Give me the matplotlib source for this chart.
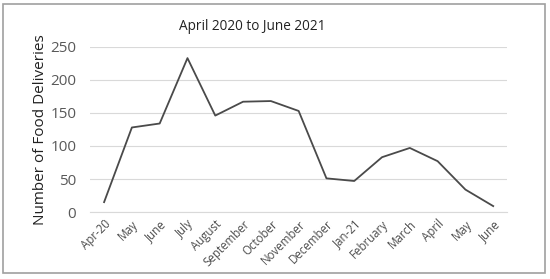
import matplotlib
matplotlib.use('Agg')
import matplotlib.pyplot as plt
from matplotlib.patches import Rectangle

months = ['Apr-20', 'May', 'June', 'July', 'August', 'September', 'October',
          'November', 'December', 'Jan-21', 'February', 'March', 'April',
          'May', 'June']
deliveries = [15, 128, 134, 233, 146, 167, 168, 153, 51, 47, 83, 97, 77, 34, 9]
y_ticks = [0, 50, 100, 150, 200, 250]

plt.rcParams['font.family'] = ['Open Sans', 'DejaVu Sans']

fig = plt.figure(figsize=(5.5, 2.79), dpi=100)
ax = fig.add_axes([0.164, 0.240, 0.758, 0.592])

x = list(range(len(months)))
ax.plot(x, deliveries, color='#4a4a4a', lw=1.3)

ax.set_ylim(0, 250)
ax.set_xlim(-0.5, len(months) - 0.5)
ax.set_yticks(y_ticks)
ax.set_xticks(x)
ax.set_xticklabels(months, rotation=45, ha='right', rotation_mode='anchor',
                   fontsize=8.3, color='#4d4d4d')
ax.tick_params(axis='y', labelsize=11, colors='#595959', length=0, pad=10)
ax.tick_params(axis='x', length=0, pad=4)
ax.grid(axis='y', color='#d9d9d9', lw=0.8)
ax.set_axisbelow(True)
for s in ax.spines.values():
    s.set_visible(False)
ax.spines['bottom'].set_visible(True)
ax.spines['bottom'].set_color('#d9d9d9')

ax.set_ylabel('Number of Food Deliveries', fontsize=11, color='#222222',
              labelpad=2)
fig.text(0.458, 0.905, 'April 2020 to June 2021', ha='center', va='center',
         fontsize=9.8, color='#222222')

# frame round the chart
fig.patches.append(Rectangle((0.006, 0.02), 0.985, 0.965, transform=fig.transFigure,
                             fill=False, edgecolor='#a0a0a0', lw=1.2))

fig.savefig('out.png', dpi=100)
